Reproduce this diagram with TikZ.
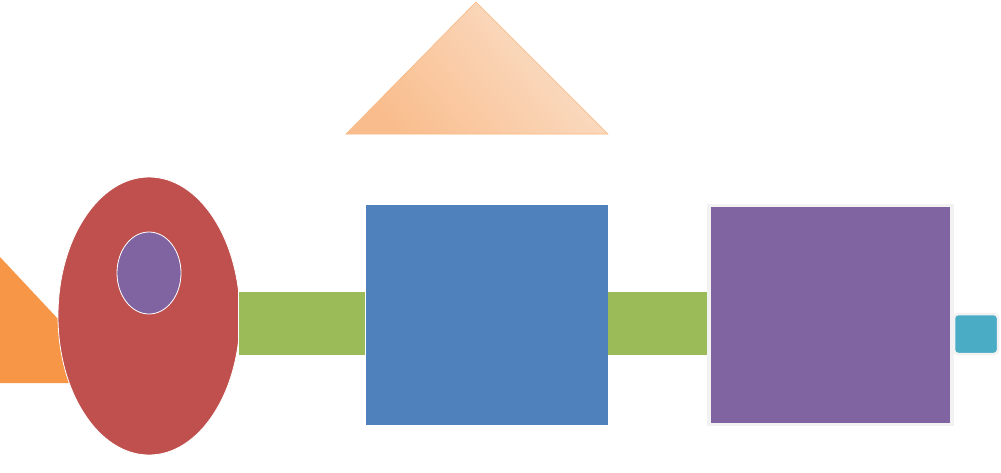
\documentclass[tikz,border=0pt]{standalone}
\usetikzlibrary{shapes.geometric}
\definecolor{cOrange}{HTML}{F79646}
\definecolor{cRed}{HTML}{C0504D}
\definecolor{cPurple}{HTML}{8064A2}
\definecolor{cGreen}{HTML}{9BBB59}
\definecolor{cBlue}{HTML}{4F81BD}
\definecolor{cTeal}{HTML}{4BACC6}
\definecolor{cFrame}{HTML}{F2F2F2}
\definecolor{cPeachDark}{HTML}{F9BD8D}
\definecolor{cPeachMid}{HTML}{FDEDE1}
\definecolor{cPeachLight}{HTML}{FBE0CA}
\definecolor{cPeachLine}{HTML}{F9B880}
\tikzset{
  shapebox/.style={rectangle, inner sep=0pt, outer sep=0pt, draw=white, line width=0.8pt},
  oval/.style={ellipse, inner sep=0pt, outer sep=0pt, draw=white, line width=0.8pt},
}
\begin{document}
\begin{tikzpicture}[x=1pt,y=-1pt]
\useasboundingbox (0,0) rectangle (1001,472);
% orange triangle behind the ellipse
\coordinate (ot1) at (0,257);
\coordinate (ot2) at (118,383);
\coordinate (ot3) at (0,383);
\fill[cOrange] (ot1) -- (ot2) -- (ot3) -- cycle;
% red ellipse with purple inner ellipse
\node[oval, fill=cRed, minimum width=182pt, minimum height=278pt] (redoval) at (149,316) {};
\node[oval, fill=cPurple, minimum width=64pt, minimum height=82pt] (inneroval) at (149,273) {};
% green bars
\node[shapebox, fill=cGreen, minimum width=127pt, minimum height=64pt] (bar1) at (301.5,323) {};
\node[shapebox, fill=cGreen, minimum width=100pt, minimum height=64pt] (bar2) at (657.5,323) {};
% blue square
\node[rectangle, inner sep=0pt, fill=cBlue, minimum width=242pt, minimum height=220pt] (bluesq) at (487,315) {};
% purple square with light frame
\node[rectangle, inner sep=0pt, fill=cPurple, draw=cFrame, line width=3.5pt, minimum width=243pt, minimum height=219pt] (purplesq) at (830.5,315) {};
% teal rounded rectangle
\node[rectangle, rounded corners=4pt, inner sep=0pt, fill=cTeal, draw=cFrame, line width=2.5pt, minimum width=44pt, minimum height=40pt] (tealrect) at (976,334) {};
% peach triangle on top
\coordinate (apex) at (476,2);
\coordinate (bl) at (346,134);
\coordinate (br) at (608,134);
\shade[shading=axis, bottom color=cPeachDark, middle color=cPeachMid, top color=cPeachLight, shading angle=-50] (apex) -- (br) -- (bl) -- cycle;
\draw[cPeachLine, line width=0.6pt] (apex) -- (br) -- (bl) -- cycle;
\end{tikzpicture}
\end{document}
